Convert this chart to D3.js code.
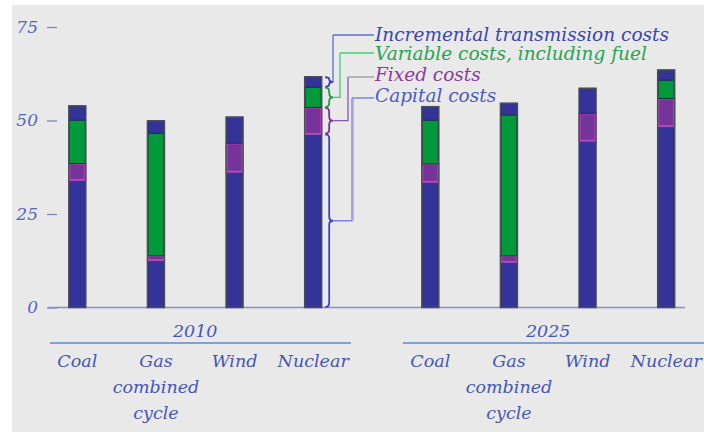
<!DOCTYPE html>
<html><head><meta charset="utf-8">
<script src="https://cdn.jsdelivr.net/npm/d3@7"></script>
<style>
html,body{margin:0;padding:0;background:#fff;}
svg{display:block;}
</style></head>
<body>
<script>
// ---- data ----
const years = ["2010", "2025"];
const categories = ["Coal", "Gas combined cycle", "Wind", "Nuclear"];
const categoryLines = [["Coal"], ["Gas", "combined", "cycle"], ["Wind"], ["Nuclear"]];
const seriesNames = ["Capital costs", "Fixed costs", "Variable costs, including fuel", "Incremental transmission costs"];
// values per year, in category order
const capital2010      = [34.1, 12.7, 36.3, 46.4];
const fixed2010        = [4.4, 1.1, 7.6, 7.1];
const variable2010     = [11.6, 32.8, 0, 5.4];
const transmission2010 = [3.8, 3.3, 7.0, 2.8];
const capital2025      = [33.6, 12.2, 44.6, 48.5];
const fixed2025        = [4.8, 1.6, 7.3, 7.4];
const variable2025     = [11.7, 37.7, 0, 4.9];
const transmission2025 = [3.6, 3.1, 6.7, 2.7];
const yTicks = [0, 25, 50, 75];

const W = 704, H = 432;
const svg = d3.select("body").append("svg").attr("width", W).attr("height", H);

svg.append("rect").attr("x", 12).attr("y", 5).attr("width", W - 12).attr("height", H - 5).attr("fill", "#e9e9e9");

const y = d3.scaleLinear().domain([0, 75]).range([307.5, 27]);
const xYear = d3.scaleOrdinal().domain(years).range([38, 391]);
const xCat = d3.scaleBand().domain(categories).range([0, 314.5]);
const barW = 16;
const cx = (yr, c) => xYear(yr) + xCat(c) + xCat.bandwidth() / 2;

const colors = { "Capital costs": "#33339a", "Fixed costs": "#76339c", "Variable costs, including fuel": "#009a3a", "Incremental transmission costs": "#33339a" };
const strokes = { "Capital costs": "#1d2a6a", "Fixed costs": "#b449b8", "Variable costs, including fuel": "#0b3a2a", "Incremental transmission costs": "#1d2a6a" };

const dataByYear = {
  "2010": [capital2010, fixed2010, variable2010, transmission2010],
  "2025": [capital2025, fixed2025, variable2025, transmission2025]
};

const rows = [];
years.forEach(yr => categories.forEach((c, i) => {
  const r = { year: yr, cat: c };
  seriesNames.forEach((s, k) => r[s] = dataByYear[yr][k][i]);
  rows.push(r);
}));
const stack = d3.stack().keys(seriesNames)(rows);

// axis
const axis = d3.axisLeft(y).tickValues(yTicks).tickSize(10).tickPadding(9).tickFormat(d3.format("d"));
const ag = svg.append("g").attr("transform", "translate(57,0)").call(axis);
ag.select(".domain").remove();
ag.selectAll(".tick line").attr("stroke", "#7a86cc").attr("stroke-width", 1.3);
ag.selectAll(".tick text").attr("font-family", "DejaVu Serif").attr("font-style", "italic")
  .attr("font-size", 17).attr("fill", "#5465c0");

// baseline
svg.append("line").attr("x1", 48).attr("x2", 685).attr("y1", y(0)).attr("y2", y(0))
  .attr("stroke", "#8a8ad8").attr("stroke-width", 1.5);

// bars
stack.forEach(layer => {
  svg.append("g").selectAll("rect").data(layer).join("rect")
    .attr("x", d => cx(d.data.year, d.data.cat) - barW / 2)
    .attr("width", barW)
    .attr("y", d => y(d[1]))
    .attr("height", d => Math.max(0, y(d[0]) - y(d[1])))
    .attr("fill", colors[layer.key])
    .attr("stroke", d => (d[1] - d[0]) > 0 ? strokes[layer.key] : "none")
    .attr("stroke-width", layer.key === "Fixed costs" ? 2 : 1);
});
// bar outlines
svg.append("g").selectAll("rect").data(rows).join("rect")
  .attr("x", d => cx(d.year, d.cat) - barW / 2 - 0.5)
  .attr("width", barW + 1)
  .attr("y", d => y(d3.sum(seriesNames, s => d[s])))
  .attr("height", d => y(0) - y(d3.sum(seriesNames, s => d[s])))
  .attr("fill", "none").attr("stroke", "#4a4f55").attr("stroke-width", 1.5);

// year labels + lines
const labelFont = g => g.attr("font-family", "DejaVu Serif").attr("font-style", "italic").attr("font-size", 17.5).attr("fill", "#4656b8");
years.forEach((yr, i) => {
  const mid = (cx(yr, categories[0]) + cx(yr, categories[3])) / 2;
  svg.append("text").attr("x", mid).attr("y", 337).attr("text-anchor", "middle").call(labelFont).text(yr);
  svg.append("line").attr("x1", xYear(yr) + 12).attr("x2", i === 0 ? 351 : 704)
    .attr("y1", 343).attr("y2", 343).attr("stroke", "#5a8ad0").attr("stroke-width", 1.3);
  categories.forEach((c, j) => {
    const t = svg.append("text").attr("x", cx(yr, c)).attr("text-anchor", "middle").call(labelFont);
    categoryLines[j].forEach((ln, k) => {
      t.append("tspan").attr("x", cx(yr, c)).attr("y", 367 + k * 26).text(ln);
    });
  });
});

// legend with braces from 2010 Nuclear bar
const nuc = rows.find(r => r.year === "2010" && r.cat === "Nuclear");
const nucLayers = stack.map(l => l.find(d => d.data === nuc));
const bx = cx("2010", "Nuclear") + barW / 2 + 4;
function brace(x, y1, y2, w) {
  const ym = (y1 + y2) / 2, h = w / 2;
  const r = Math.min(h, (y2 - y1) / 4);
  return `M${x},${y1} Q${x + h},${y1} ${x + h},${y1 + r} L${x + h},${ym - r} Q${x + h},${ym} ${x + w},${ym}` +
         ` Q${x + h},${ym} ${x + h},${ym + r} L${x + h},${y2 - r} Q${x + h},${y2} ${x},${y2}`;
}
const legendX = 374;
const legend = [
  { key: "Incremental transmission costs", col: "#3a3ab0", textCol: "#3b45b0", lineY: 35, vx: 333, base: 41, lineCol: "#5d6fd0", topCol: "#5d6fd0" },
  { key: "Variable costs, including fuel", col: "#1f9a45", textCol: "#26a450", lineY: 53, vx: 340, base: 60, lineCol: "#3fcf6f", topCol: "#3fcf6f" },
  { key: "Fixed costs", col: "#7a2f99", textCol: "#8a3a9c", lineY: 77, vx: 348, base: 81, lineCol: "#8a55bb", topCol: "#9a9a9a" },
  { key: "Capital costs", col: "#4040c8", textCol: "#4a5cc4", lineY: 98, vx: 352, base: 102, lineCol: "#7a80dd", topCol: "#6a7ad8" }
];
legend.forEach(l => {
  const idx = seriesNames.indexOf(l.key);
  const seg = nucLayers[idx];
  const y1 = y(seg[1]) + 0.5, y2 = y(seg[0]) - 0.5;
  const ym = (y1 + y2) / 2;
  svg.append("path").attr("d", brace(bx, y1, y2, 8)).attr("fill", "none")
    .attr("stroke", l.col).attr("stroke-width", 1.8);
  svg.append("path").attr("d", `M${bx + 8},${ym} H${l.vx} V${l.lineY}`)
    .attr("fill", "none").attr("stroke", l.lineCol).attr("stroke-width", 1.3);
  svg.append("path").attr("d", `M${l.vx},${l.lineY} H${legendX}`)
    .attr("fill", "none").attr("stroke", l.topCol).attr("stroke-width", 1.3);
  svg.append("text").attr("x", legendX + 1).attr("y", l.base)
    .attr("font-family", "DejaVu Serif").attr("font-style", "italic").attr("font-size", 18.5)
    .attr("fill", l.textCol).text(l.key);
});
// cyan accent next to capital connector
const capSeg = nucLayers[0];
svg.append("line").attr("x1", 353.5).attr("x2", 353.5).attr("y1", 98).attr("y2", (y(capSeg[1]) + y(capSeg[0])) / 2)
  .attr("stroke", "#7fd0d8").attr("stroke-width", 1);
</script>
</body></html>
